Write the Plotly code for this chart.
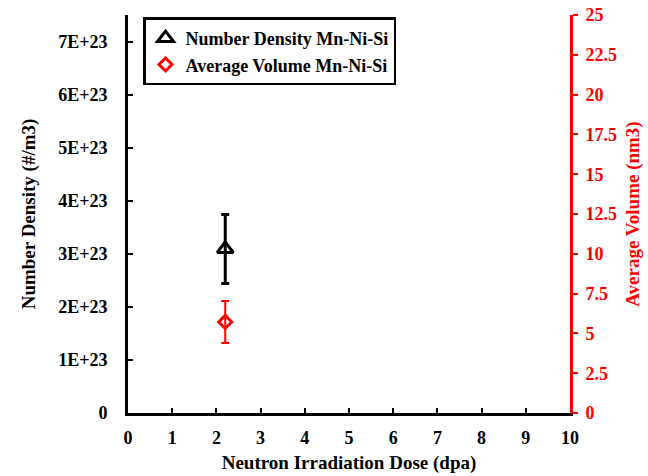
import plotly.graph_objects as go

dose = [2.2]
number_density = [3.09e23]
number_density_err = [0.65e23]
avg_volume = [5.72]
avg_volume_err = [1.32]

left_tickvals = [0, 1e23, 2e23, 3e23, 4e23, 5e23, 6e23, 7e23]
left_ticktext = ["0", "1E+23", "2E+23", "3E+23", "4E+23", "5E+23", "6E+23", "7E+23"]
right_tickvals = [0, 2.5, 5, 7.5, 10, 12.5, 15, 17.5, 20, 22.5, 25]
right_ticktext = ["0", "2.5", "5", "7.5", "10", "12.5", "15", "17.5", "20", "22.5", "25"]
x_tickvals = list(range(0, 11))

FONT = "Liberation Serif"

fig = go.Figure()
fig.add_trace(go.Scatter(
    x=dose, y=number_density, mode="markers", name="Number Density Mn-Ni-Si",
    marker=dict(symbol="triangle-up-open", size=14, color="black", line=dict(width=3, color="black")),
    error_y=dict(type="data", array=number_density_err, color="black", thickness=3, width=4),
))
fig.add_trace(go.Scatter(
    x=dose, y=avg_volume, mode="markers", name="Average Volume Mn-Ni-Si", yaxis="y2",
    marker=dict(symbol="diamond-open", size=10, color="red", line=dict(width=3, color="red")),
    error_y=dict(type="data", array=avg_volume_err, color="red", thickness=2, width=4),
))

fig.update_layout(
    width=648, height=476,
    margin=dict(l=128, r=78, t=15, b=63),
    paper_bgcolor="white", plot_bgcolor="white",
    font=dict(family=FONT, size=18, color="black"),
    showlegend=True,
    legend=dict(x=0.034, y=0.994, xanchor="left", yanchor="top",
                bordercolor="black", borderwidth=2.5, bgcolor="white",
                font=dict(family=FONT, size=18, color="black", weight="bold"),
                tracegroupgap=2, itemwidth=30),
    xaxis=dict(range=[0, 10], tickvals=x_tickvals, showline=True, linecolor="black", linewidth=3,
               ticks="inside", ticklen=5, tickwidth=2, tickcolor="black", showgrid=False, zeroline=False,
               ticklabelstandoff=6, automargin=False,
               tickfont=dict(family=FONT, size=18, weight="bold"),
               title=dict(text="Neutron Irradiation Dose (dpa)", font=dict(family=FONT, size=19, weight="bold"), standoff=10)),
    yaxis=dict(range=[0, 7.5e23], tickvals=left_tickvals, ticktext=left_ticktext, showline=True,
               linecolor="black", linewidth=3, ticks="inside", ticklen=5, tickwidth=2, tickcolor="black",
               showgrid=False, zeroline=False, ticklabelstandoff=14, automargin=False,
               tickfont=dict(family=FONT, size=18, weight="bold"),
               title=dict(text="Number Density (#/m3)", font=dict(family=FONT, size=19, weight="bold"), standoff=18)),
    yaxis2=dict(range=[0, 25], tickvals=right_tickvals, ticktext=right_ticktext, overlaying="y", side="right",
                showline=True, linecolor="red", linewidth=3, ticks="outside", ticklen=5, tickwidth=2,
                tickcolor="red", showgrid=False, zeroline=False, ticklabelstandoff=4, automargin=False,
                tickfont=dict(family=FONT, size=18, color="red", weight="bold"),
                title=dict(text="Average Volume (nm3)", font=dict(family=FONT, size=19, color="red", weight="bold"), standoff=10)),
)

fig.write_html("out.html")
